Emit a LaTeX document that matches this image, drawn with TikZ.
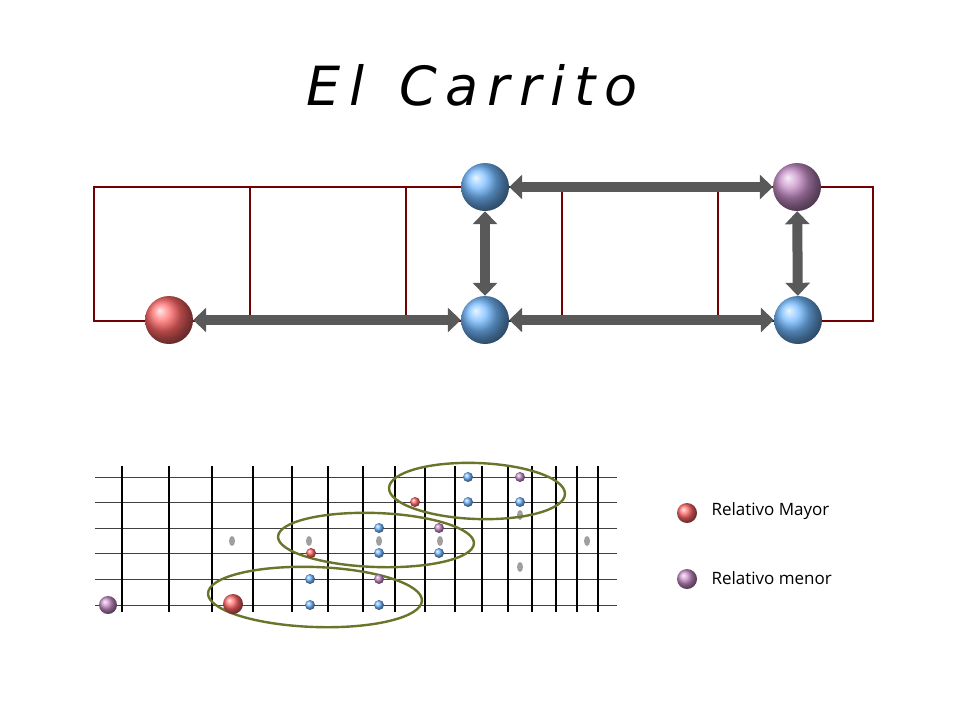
\documentclass[tikz,border=0pt]{standalone}
\usepackage{fontspec}
\setmainfont{Open Sans}
\newfontfamily\titlefont{DejaVu Sans}
\usetikzlibrary{arrows.meta,shapes.geometric}
\begin{document}
\begin{tikzpicture}[x=1pt,y=-1pt,
  ball/.style={circle,minimum size=#1,inner sep=0pt,draw=none},
  blueb/.style={ball=#1,ball color=cyan!50!blue!55!white},
  redb/.style={ball=#1,ball color=red!60!white},
  purb/.style={ball=#1,ball color=violet!45!white},
  fat/.style={line width=10pt,draw=black!65,{Triangle[width=24pt,length=13pt]}-{Triangle[width=24pt,length=13pt]}},
  frame/.style={draw=red!45!black,line width=1.2pt},
  str/.style={draw=black!75,line width=0.8pt},
  fret/.style={draw=black,line width=1.6pt},
  inlay/.style={ellipse,fill=gray!75,minimum width=6pt,minimum height=10pt,inner sep=0pt},
  ring/.style={draw=olive!75!green!70!black,line width=2.4pt},
  leg/.style={anchor=west,font=\fontsize{17}{20}\selectfont}]
\useasboundingbox (0,0) rectangle (960,720);
\node (title) at (472,85) {\titlefont\itshape\fontsize{54}{60}\selectfont E\,l\ \ C\,a\,r\,r\,i\,t\,o};
% top frame
\draw[frame] (94,187) rectangle (873,321);
\foreach \x in {250,406,562,718} \draw[frame] (\x,187) -- (\x,321);
\node[blueb=48pt] (b1) at (485,187) {};
\node[redb=48pt] (r) at (169,320) {};
\node[blueb=48pt] (b2) at (485,320) {};
\node[blueb=48pt] (b3) at (798,320) {};
\node[purb=48pt] (p) at (797,187) {};
\draw[fat] (r) -- (b2);
\draw[fat] (b1) -- (p);
\draw[fat] (b2) -- (b3);
\draw[fat] (b1) -- (b2);
\draw[fat] (p) -- (b3);
% fretboard
\foreach \y in {477,502,528,553,579,605} \draw[str] (95,\y) -- (617,\y);
\draw[fret,line width=2.4pt] (122,466) -- (122,612);
\foreach \x in {169,212,253,292,328,363,395,425,455,482,508,532,556,577,598} \draw[fret] (\x,466) -- (\x,612);
\foreach \x/\y [count=\i] in {232/541,309/541,379/541,440/541,520/515,520/567,587/541} \node[inlay] (g\i) at (\x,\y) {};
\draw[ring,rotate around={-2:(315,597)}] (315,597) ellipse (107 and 30);
\draw[ring,rotate around={-2:(376,540)}] (376,540) ellipse (98 and 27);
\draw[ring,rotate around={-2:(477,491)}] (477,491) ellipse (88 and 28);
\node[purb=18pt] (d1) at (108,605) {};
\node[redb=20pt] (d2) at (233,604) {};
\foreach \x/\y [count=\i] in {310/579,310/605,379/605,379/528,379/553,439/553,468/477,468/502,520/502} \node[blueb=10pt] (bb\i) at (\x,\y) {};
\foreach \x/\y [count=\i] in {379/579,439/528,520/477} \node[purb=10pt] (pp\i) at (\x,\y) {};
\node[redb=10pt] (rr1) at (311,553) {};
\node[redb=10pt] (rr2) at (415,502) {};
% legend
\node[redb=20pt] (lr) at (687,513) {};
\node[purb=20pt] (lp) at (687,579) {};
\node[leg] (t1) at (708,511) {Relativo Mayor};
\node[leg] (t2) at (708,578) {Relativo menor};
\end{tikzpicture}
\end{document}
